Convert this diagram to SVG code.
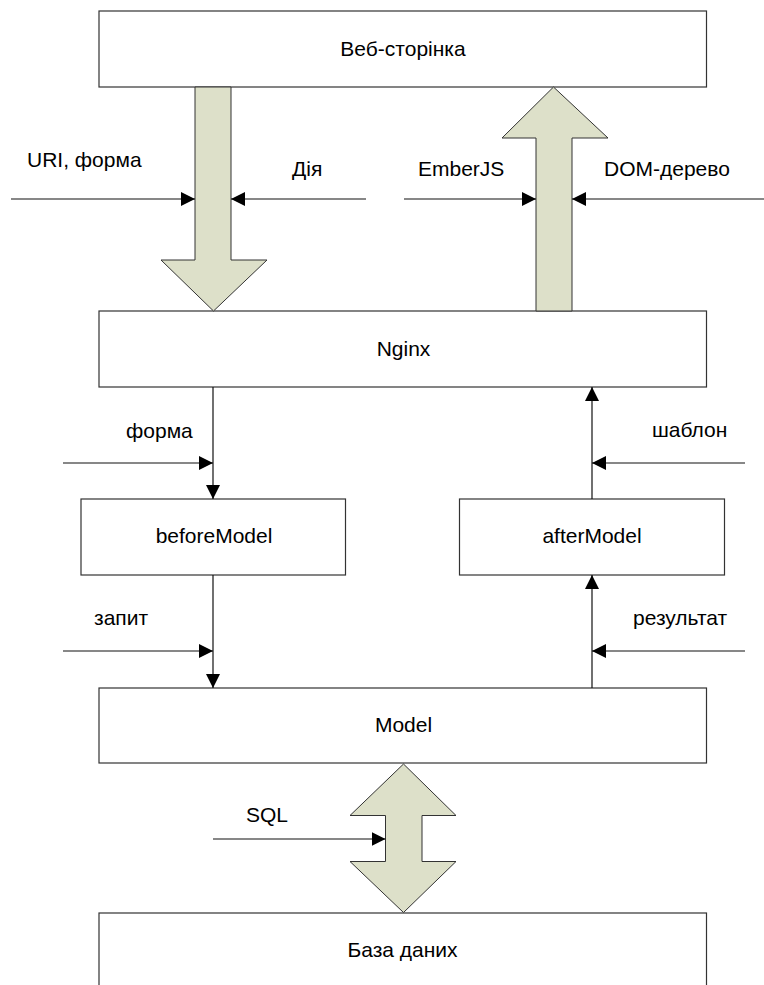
<svg xmlns="http://www.w3.org/2000/svg" width="764" height="985" viewBox="0 0 764 985">
<style>
.box{fill:#fff;stroke:#333;stroke-width:1.2}
.blk{fill:#dde0c9;stroke:#333;stroke-width:1}
.ln{fill:none;stroke:#111;stroke-width:1.2;marker-end:url(#ah)}
text{font-family:"Liberation Sans",Arial,sans-serif;font-size:21px;fill:#000}
.c{text-anchor:middle}
</style>
<defs>
<marker id="ah" markerUnits="userSpaceOnUse" markerWidth="14" markerHeight="14" refX="14" refY="7" orient="auto">
<path d="M0,0 L14,7 L0,14 Z" fill="#000"/>
</marker>
</defs>
<rect width="764" height="985" fill="#fff"/>
<g id="web"><rect class="box" x="99" y="11" width="607.5" height="76"/><text class="c" x="403" y="56">Веб-сторінка</text></g>
<g id="nginx"><rect class="box" x="99" y="311" width="607.5" height="76"/><text class="c" x="403.5" y="356">Nginx</text></g>
<g id="beforeModel"><rect class="box" x="81" y="499" width="264.5" height="76"/><text class="c" x="214" y="543">beforeModel</text></g>
<g id="afterModel"><rect class="box" x="459.5" y="499" width="265" height="76"/><text class="c" x="592" y="543">afterModel</text></g>
<g id="model"><rect class="box" x="99" y="688" width="607.5" height="75"/><text class="c" x="403.5" y="732">Model</text></g>
<g id="db"><rect class="box" x="99" y="913" width="607.5" height="90"/><text class="c" x="402.5" y="957">База даних</text></g>
<g id="connectors">
<path class="blk" d="M195,87 L231,87 L231,260 L267,260 L213.5,311 L161,260 L195,260 Z"/>
<path class="blk" d="M536,311 L572,311 L572,138 L608,138 L553.5,87 L502,138 L536,138 Z"/>
<path class="blk" d="M403.5,764 L456,815.5 L422,815.5 L422,861.5 L456,861.5 L403.5,912.5 L350,861.5 L385.5,861.5 L385.5,815.5 L350,815.5 Z"/>
<line class="ln" x1="11" y1="199" x2="195" y2="199"/>
<line class="ln" x1="366" y1="199" x2="231" y2="199"/>
<line class="ln" x1="404" y1="199" x2="536" y2="199"/>
<line class="ln" x1="764" y1="199" x2="572" y2="199"/>
<line class="ln" x1="213" y1="387" x2="213" y2="499"/>
<line class="ln" x1="63" y1="463" x2="213" y2="463"/>
<line class="ln" x1="592" y1="499" x2="592" y2="387"/>
<line class="ln" x1="745" y1="463" x2="592" y2="463"/>
<line class="ln" x1="213" y1="575" x2="213" y2="688"/>
<line class="ln" x1="63" y1="651" x2="213" y2="651"/>
<line class="ln" x1="592" y1="688" x2="592" y2="575"/>
<line class="ln" x1="745" y1="651" x2="592" y2="651"/>
<line class="ln" x1="213" y1="839" x2="385.5" y2="839"/>
<text x="27" y="167">URI, форма</text>
<text x="292" y="176">Дія</text>
<text x="418" y="176">EmberJS</text>
<text x="604" y="176">DOM-дерево</text>
<text x="126" y="438">форма</text>
<text x="652" y="437">шаблон</text>
<text x="94" y="625">запит</text>
<text x="633" y="625">результат</text>
<text x="246" y="822">SQL</text>
</g>
</svg>
